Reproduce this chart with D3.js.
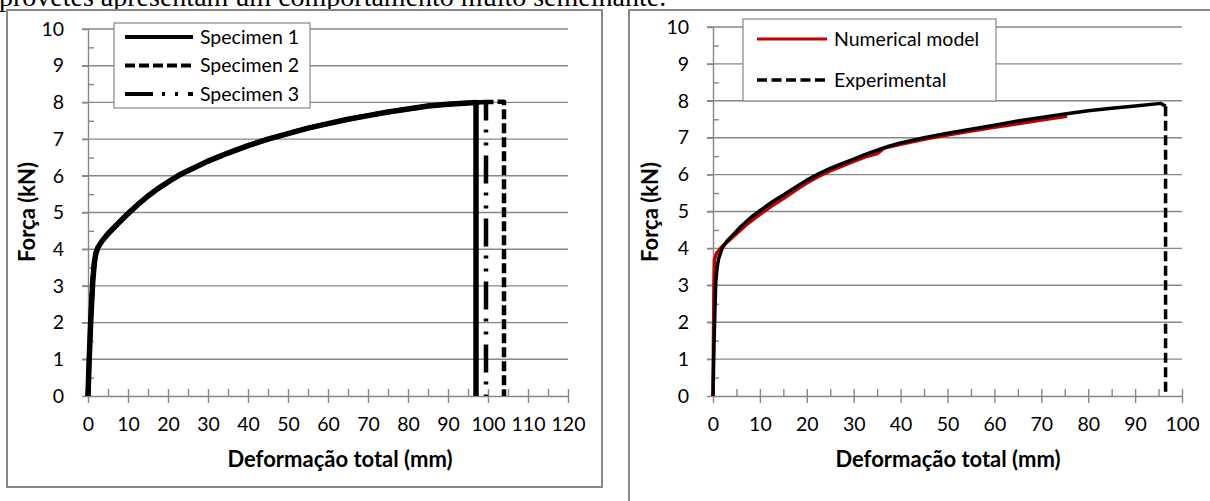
<!DOCTYPE html>
<html>
<head>
<meta charset="utf-8">
<script src="https://cdn.jsdelivr.net/npm/d3@7"></script>
<style>
  body { margin: 0; background: #fff; }
  svg { display: block; }
  text { font-family: Lato, "Open Sans", sans-serif; fill: #000; }
</style>
</head>
<body>
<svg id="chart" width="1210" height="501"></svg>
<script>
// valeurs (mm, kN)
const loadingMm = [0, 0.3, 0.7, 1.2, 1.6, 2.0, 2.5, 3.5, 5, 7.5, 10, 12.5, 15, 17.5, 20, 22.5, 25, 30, 35, 40, 45, 50, 55, 60, 65, 70, 75, 80, 85, 90, 94, 97];
const loadingKn = [0, 1.0, 2.1, 3.15, 3.65, 3.9, 4.05, 4.22, 4.42, 4.7, 4.97, 5.22, 5.45, 5.65, 5.83, 6.0, 6.14, 6.4, 6.62, 6.82, 7.0, 7.15, 7.3, 7.42, 7.54, 7.64, 7.74, 7.82, 7.9, 7.95, 7.98, 8.0];
const spec1TailMm = [97];
const spec1TailKn = [0];
const spec2TailMm = [100, 104, 104];
const spec2TailKn = [8.01, 8.02, 0];
const spec3TailMm = [99.5, 99.5];
const spec3TailKn = [8.01, 0];
const specimenNames = ["Specimen 1", "Specimen 2", "Specimen 3"];

const numMm = [0, 0.1, 0.2, 0.3, 0.8, 1.8, 3, 5, 7.5, 10, 12.5, 15, 17.5, 20, 22.5, 25, 27.5, 30, 32.5, 35, 36.5, 40, 45, 50, 55, 60, 65, 70, 75.5];
const numKn = [0, 1.5, 3.0, 3.7, 3.88, 4.03, 4.17, 4.4, 4.68, 4.92, 5.15, 5.35, 5.57, 5.77, 5.95, 6.1, 6.23, 6.36, 6.48, 6.57, 6.72, 6.82, 6.96, 7.07, 7.18, 7.28, 7.38, 7.48, 7.58];
const expMm = [0, 0.2, 0.4, 0.6, 0.9, 1.2, 2, 3, 4.3, 6, 8, 10, 12.5, 15, 17.5, 20, 22.5, 25, 27.5, 30, 32.5, 35, 37.5, 40, 45, 50, 55, 60, 65, 70, 75, 80, 85, 90, 95.5, 96.5, 96.5];
const expKn = [0, 1.3, 2.3, 3.1, 3.5, 3.72, 4.02, 4.2, 4.37, 4.6, 4.83, 5.02, 5.25, 5.45, 5.65, 5.85, 6.02, 6.17, 6.3, 6.42, 6.55, 6.66, 6.77, 6.86, 7.0, 7.12, 7.23, 7.34, 7.45, 7.55, 7.64, 7.73, 7.8, 7.86, 7.93, 7.85, 0];
const modelNames = ["Numerical model", "Experimental"];

const leftXTicks = d3.range(0, 121, 10);
const rightXTicks = d3.range(0, 101, 10);
const yTicks = d3.range(0, 11, 1);

const grey = "#878787";
const svg = d3.select("#chart");

// texte du document coupé en haut
svg.append("text")
    .attr("x", -1)
    .attr("y", 6)
    .style("font-family", "'Liberation Serif', 'Times New Roman', serif")
    .style("font-size", "28px")
    .text("provetes apresentam um comportamento muito semelhante.");

const zip = (xs, ys) => xs.map((v, i) => [v, ys[i]]);

const drawPanel = (opt) => {
    const x = d3.scaleLinear().domain([0, opt.xMax]).range(opt.xRange);
    const y = d3.scaleLinear().domain([0, 10]).range(opt.yRange);
    const g = svg.append("g");

    // cadre
    g.append("rect")
        .attr("x", opt.frame[0]).attr("y", opt.frame[1])
        .attr("width", opt.frame[2]).attr("height", opt.frame[3])
        .attr("fill", "#fff").attr("stroke", grey).attr("stroke-width", 2);

    // grille
    g.selectAll(".grid")
        .data(yTicks.filter(d => d > 0))
        .join("line")
        .attr("x1", x(0) - 6).attr("x2", x(opt.xMax))
        .attr("y1", d => y(d)).attr("y2", d => y(d))
        .attr("stroke", grey).attr("stroke-width", 1.4);

    // axe y
    g.append("g")
        .attr("transform", `translate(${x(0)},0)`)
        .call(d3.axisLeft(y).tickValues(yTicks).tickSize(6).tickSizeOuter(0).tickPadding(18));
    g.append("g")
        .attr("transform", `translate(${x(0)},0)`)
        .call(d3.axisRight(y).tickValues(d3.range(0.5, 10, 1)).tickSize(6).tickFormat(""))
        .call(a => a.select(".domain").remove());

    // axe x
    g.append("g")
        .attr("transform", `translate(0,${y(0)})`)
        .call(d3.axisBottom(x).tickValues(opt.xTicks).tickSize(7).tickSizeOuter(0).tickPadding(14));
    g.append("g")
        .attr("transform", `translate(0,${y(0)})`)
        .call(d3.axisTop(x).tickValues(d3.range(0, opt.xMax + 1, 5)).tickSize(7).tickFormat(""))
        .call(a => a.select(".domain").remove());

    g.selectAll(".tick line, .domain").attr("stroke", grey).attr("stroke-width", 1.4);
    g.selectAll(".tick text")
        .style("font-family", "Lato, sans-serif")
        .style("font-size", "19.5px")
        .attr("fill", "#000");

    // titres
    g.append("text")
        .attr("x", opt.xTitleX).attr("y", 467)
        .attr("text-anchor", "middle")
        .style("font-size", "22px").style("font-weight", "bold")
        .text("Deformação total (mm)");
    g.append("text")
        .attr("transform", `translate(${opt.yTitleX},212) rotate(-90)`)
        .attr("text-anchor", "middle")
        .attr("dy", "0.35em")
        .style("font-size", "22px").style("font-weight", "bold")
        .text("Força (kN)");

    const line = d3.line().x(d => x(d[0])).y(d => y(d[1]));

    opt.series.forEach(s => {
        g.append("path")
            .datum(s.points)
            .attr("d", line)
            .attr("fill", "none")
            .attr("stroke", s.color)
            .attr("stroke-width", s.width)
            .attr("stroke-dasharray", s.dash)
            .attr("stroke-linejoin", "round");
    });

    // légende
    const lg = opt.legend;
    g.append("rect")
        .attr("x", lg.box[0]).attr("y", lg.box[1])
        .attr("width", lg.box[2]).attr("height", lg.box[3])
        .attr("fill", "#fff").attr("stroke", grey).attr("stroke-width", 1.2);
    lg.items.forEach((it, i) => {
        const yy = lg.rows[i];
        g.append("line")
            .attr("x1", lg.lineX[0]).attr("x2", lg.lineX[1])
            .attr("y1", yy).attr("y2", yy)
            .attr("stroke", it.color).attr("stroke-width", it.width)
            .attr("stroke-dasharray", it.dash);
        g.append("text")
            .attr("x", lg.textX).attr("y", yy)
            .attr("dy", "0.35em")
            .style("font-size", "19.5px")
            .text(it.name);
    });
};

const dash2 = "10 4";
const dash3 = "28 9 3 10 3 10";

drawPanel({
    xMax: 120, xRange: [88, 568], yRange: [396, 29],
    frame: [7, 10, 595, 477],
    xTicks: leftXTicks, xTitleX: 340, yTitleX: 27,
    series: [
        { points: zip(loadingMm.concat(spec2TailMm), loadingKn.concat(spec2TailKn)), color: "#000", width: 4.5, dash: dash2 },
        { points: zip(loadingMm.concat(spec3TailMm), loadingKn.concat(spec3TailKn)), color: "#000", width: 4.5, dash: dash3 },
        { points: zip(loadingMm.concat(spec1TailMm), loadingKn.concat(spec1TailKn)), color: "#000", width: 5.5, dash: null }
    ],
    legend: {
        box: [114, 23, 196, 85], lineX: [125, 193], textX: 200, rows: [37, 65.5, 94],
        items: [
            { name: specimenNames[0], color: "#000", width: 4, dash: null },
            { name: specimenNames[1], color: "#000", width: 4, dash: dash2 },
            { name: specimenNames[2], color: "#000", width: 4, dash: dash3 }
        ]
    }
});

const peak = expKn.indexOf(d3.max(expKn));
drawPanel({
    xMax: 100, xRange: [713, 1182], yRange: [396, 27],
    frame: [629, 10, 620, 520],
    xTicks: rightXTicks, xTitleX: 948, yTitleX: 650,
    series: [
        { points: zip(numMm, numKn), color: "#c00000", width: 3.5, dash: null },
        { points: zip(expMm, expKn).slice(0, peak + 2), color: "#000", width: 3.5, dash: null },
        { points: zip(expMm, expKn).slice(peak + 1), color: "#000", width: 3.5, dash: "10 4.5" }
    ],
    legend: {
        box: [743, 19, 253, 82], lineX: [757, 827], textX: 834, rows: [39, 80],
        items: [
            { name: modelNames[0], color: "#c00000", width: 3, dash: null },
            { name: modelNames[1], color: "#000", width: 3.5, dash: "10 4.5" }
        ]
    }
});
</script>
</body>
</html>
